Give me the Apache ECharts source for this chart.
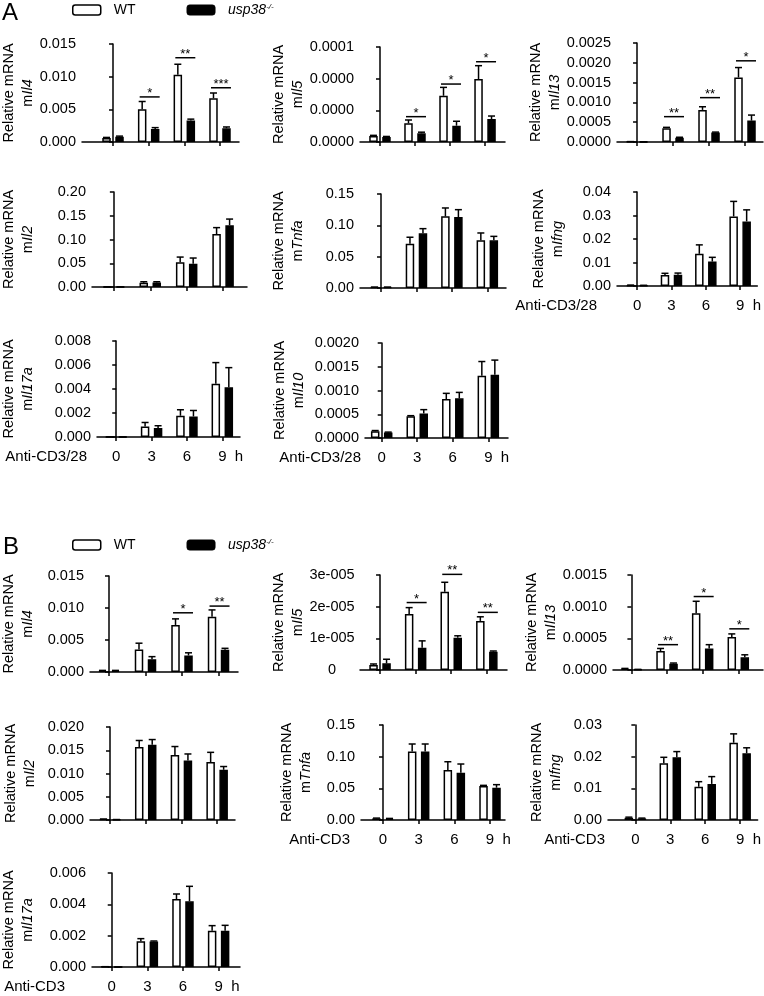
<!DOCTYPE html>
<html><head><meta charset="utf-8">
<script src="https://cdn.jsdelivr.net/npm/echarts@6/dist/echarts.min.js"></script>
<style>html,body{margin:0;padding:0;background:#fff}#c{width:764px;height:996px}</style>
</head><body><div id="c"></div>
<script>
const TIMES = [0, 3, 6, 9];

// ---------- Panel A (Anti-CD3/28) ----------
const A_IL4_WT = [0.0006, 0.0050, 0.0103, 0.0067];
const A_IL4_WT_SEM = [0.0001, 0.0012, 0.0016, 0.0008];
const A_IL4_KO = [0.0008, 0.0020, 0.0033, 0.0021];
const A_IL4_KO_SEM = [0.0001, 0.0002, 0.0002, 0.0002];
const A_IL4_SIG = [[3, 0.0069, '*'], [6, 0.0129, '**'], [9, 0.0083, '***']];

const A_IL5_WT = [0.0000038, 0.0000118, 0.0000292, 0.0000398];
const A_IL5_WT_SEM = [0.0000004, 0.0000021, 0.0000053, 0.0000084];
const A_IL5_KO = [0.0000032, 0.0000055, 0.0000103, 0.0000145];
const A_IL5_KO_SEM = [0.0000003, 0.0000007, 0.0000028, 0.0000019];
const A_IL5_SIG = [[3, 0.000016, '*'], [6, 0.0000366, '*'], [9, 0.0000507, '*']];

const A_IL13_WT = [0.00001, 0.00035, 0.00081, 0.00163];
const A_IL13_WT_SEM = [0, 0.00002, 0.00008, 0.00025];
const A_IL13_KO = [0.000005, 0.00011, 0.00024, 0.00054];
const A_IL13_KO_SEM = [0, 0.00001, 0.00001, 0.00014];
const A_IL13_SIG = [[3, 0.00064, '**'], [6, 0.00112, '**'], [9, 0.00205, '*']];

const A_IL2_WT = [0.0005, 0.009, 0.052, 0.1115];
const A_IL2_WT_SEM = [0, 0.002, 0.011, 0.0135];
const A_IL2_KO = [0.0005, 0.0095, 0.049, 0.13];
const A_IL2_KO_SEM = [0, 0.0015, 0.012, 0.013];

const A_TNFA_WT = [0.0012, 0.0707, 0.1143, 0.076];
const A_TNFA_WT_SEM = [0.0002, 0.0103, 0.0134, 0.0118];
const A_TNFA_KO = [0.0012, 0.0872, 0.1133, 0.076];
const A_TNFA_KO_SEM = [0.0002, 0.0075, 0.0117, 0.0064];

const A_IFNG_WT = [0.0003, 0.0047, 0.0137, 0.0296];
const A_IFNG_WT_SEM = [0.0001, 0.0007, 0.0038, 0.0064];
const A_IFNG_KO = [0.0002, 0.0048, 0.0104, 0.0275];
const A_IFNG_KO_SEM = [0.0001, 0.0007, 0.0018, 0.0049];

const A_IL17A_WT = [0.00002, 0.00088, 0.00177, 0.00443];
const A_IL17A_WT_SEM = [0, 0.00033, 0.0005, 0.00177];
const A_IL17A_KO = [0.00001, 0.00075, 0.00171, 0.00415];
const A_IL17A_KO_SEM = [0, 0.00019, 0.0005, 0.00163];

const A_IL10_WT = [0.000142, 0.00046, 0.00082, 0.00131];
const A_IL10_WT_SEM = [0.000015, 0.00001, 0.00012, 0.0003];
const A_IL10_KO = [0.000114, 0.000517, 0.000835, 0.00133];
const A_IL10_KO_SEM = [0.00001, 0.00008, 0.000125, 0.00031];

// ---------- Panel B (Anti-CD3) ----------
const B_IL4_WT = [0.0002, 0.0035, 0.00735, 0.00864];
const B_IL4_WT_SEM = [0.00005, 0.001, 0.00095, 0.00106];
const B_IL4_KO = [0.0002, 0.002, 0.00258, 0.00347];
const B_IL4_KO_SEM = [0.00005, 0.0004, 0.00042, 0.00023];
const B_IL4_SIG = [[6, 0.00925, '*'], [9, 0.0103, '**']];

const B_IL5_WT = [0.0000016, 0.0000177, 0.0000247, 0.0000155];
const B_IL5_WT_SEM = [0.0000003, 0.000002, 0.000003, 0.0000013];
const B_IL5_KO = [0.0000021, 0.00000705, 0.0000102, 0.0000058];
const B_IL5_KO_SEM = [0.0000013, 0.00000215, 0.0000006, 0.0000002];
const B_IL5_SIG = [[3, 0.0000213, '*'], [6, 0.0000302, '**'], [9, 0.0000182, '**']];

const B_IL13_WT = [0.00002, 0.0003, 0.000895, 0.00052];
const B_IL13_WT_SEM = [0.000005, 0.00004, 0.00019, 0.00005];
const B_IL13_KO = [0.00001, 0.0001, 0.00034, 0.0002];
const B_IL13_KO_SEM = [0, 0.00001, 0.00006, 0.00004];
const B_IL13_SIG = [[3, 0.0004, '**'], [6, 0.00116, '*'], [9, 0.00065, '*']];

const B_IL2_WT = [0.0002, 0.0157, 0.014, 0.01245];
const B_IL2_WT_SEM = [0, 0.0014, 0.0018, 0.0021];
const B_IL2_KO = [0.0001, 0.0162, 0.0128, 0.0108];
const B_IL2_KO_SEM = [0, 0.0011, 0.0014, 0.0007];

const B_TNFA_WT = [0.0025, 0.108, 0.079, 0.0537];
const B_TNFA_WT_SEM = [0.0005, 0.012, 0.013, 0.001];
const B_TNFA_KO = [0.002, 0.108, 0.0747, 0.051];
const B_TNFA_KO_SEM = [0.0005, 0.012, 0.0137, 0.0048];

const B_IFNG_WT = [0.0007, 0.0179, 0.0105, 0.0244];
const B_IFNG_WT_SEM = [0.0002, 0.0019, 0.0016, 0.0028];
const B_IFNG_KO = [0.0005, 0.0198, 0.0114, 0.0211];
const B_IFNG_KO_SEM = [0.0001, 0.0018, 0.0023, 0.0017];

const B_IL17A_WT = [0.00002, 0.00164, 0.00434, 0.00232];
const B_IL17A_WT_SEM = [0, 0.00017, 0.00032, 0.00032];
const B_IL17A_KO = [0, 0.00162, 0.00419, 0.00232];
const B_IL17A_KO_SEM = [0, 0.00004, 0.00096, 0.00034];

const FONT = '"Liberation Sans", Arial, Helvetica, sans-serif';
const fixed = d => v => v.toFixed(d);
const sciFmt = v => (v === 0 ? '0' : Math.round(v * 1e5) + 'e-005');

// layout per panel: box = [left, top, width, height], xr = x-range in hours
const PANELS = [
  {gene:'Il4',  wt:A_IL4_WT, ws:A_IL4_WT_SEM, ko:A_IL4_KO, ks:A_IL4_KO_SEM, sig:A_IL4_SIG, box:[82,44,157,98], xr:[-2.61,10.6], yMax:0.015, yStep:0.005, fmt:fixed(3), nameGap:43},
  {gene:'Il5',  wt:A_IL5_WT, ws:A_IL5_WT_SEM, ko:A_IL5_KO, ks:A_IL5_KO_SEM, sig:A_IL5_SIG, box:[360,47,145,95], xr:[-1.71,10.71], yMax:0.00006, yStep:0.00002, fmt:fixed(4), nameGap:48},
  {gene:'Il13', wt:A_IL13_WT, ws:A_IL13_WT_SEM, ko:A_IL13_KO, ks:A_IL13_KO_SEM, sig:A_IL13_SIG, box:[617,43,146,99], xr:[-1.67,10.5], yMax:0.0025, yStep:0.0005, fmt:fixed(4), nameGap:52},
  {gene:'Il2',  wt:A_IL2_WT, ws:A_IL2_WT_SEM, ko:A_IL2_KO, ks:A_IL2_KO_SEM, box:[91,192,156,95], xr:[-1.8,10.97], yMax:0.2, yStep:0.05, fmt:fixed(2), nameGap:55},
  {gene:'Tnfa', wt:A_TNFA_WT, ws:A_TNFA_WT_SEM, ko:A_TNFA_KO, ks:A_TNFA_KO_SEM, box:[360,194,146,94], xr:[-1.78,10.58], yMax:0.15, yStep:0.05, fmt:fixed(2), nameGap:53},
  {gene:'Ifng', wt:A_IFNG_WT, ws:A_IFNG_WT_SEM, ko:A_IFNG_KO, ks:A_IFNG_KO_SEM, box:[617,192,146,94], xr:[-1.76,10.5], yMax:0.04, yStep:0.01, fmt:fixed(2), nameGap:50, xName:'Anti-CD3/28', xNameGap:20},
  {gene:'Il17a', wt:A_IL17A_WT, ws:A_IL17A_WT_SEM, ko:A_IL17A_KO, ks:A_IL17A_KO_SEM, box:[95,341,145,96], xr:[-1.63,10.5], yMax:0.008, yStep:0.002, fmt:fixed(3), nameGap:60, xName:'Anti-CD3/28', xNameGap:10},
  {gene:'Il10', wt:A_IL10_WT, ws:A_IL10_WT_SEM, ko:A_IL10_KO, ks:A_IL10_KO_SEM, box:[365,343,143,95], xr:[-1.41,10.66], yMax:0.002, yStep:0.0005, fmt:fixed(4), nameGap:57, xName:'Anti-CD3/28', xNameGap:4},
  {gene:'Il4',  wt:B_IL4_WT, ws:B_IL4_WT_SEM, ko:B_IL4_KO, ks:B_IL4_KO_SEM, sig:B_IL4_SIG, box:[89,576,149,96], xr:[-1.56,10.6], yMax:0.015, yStep:0.005, fmt:fixed(3), nameGap:53},
  {gene:'Il5',  wt:B_IL5_WT, ws:B_IL5_WT_SEM, ko:B_IL5_KO, ks:B_IL5_KO_SEM, sig:B_IL5_SIG, box:[360,575,147,95], xr:[-1.69,10.7], yMax:0.00003, yStep:0.00001, fmt:sciFmt, nameGap:53, centerLabels:true},
  {gene:'Il13', wt:B_IL13_WT, ws:B_IL13_WT_SEM, ko:B_IL13_KO, ks:B_IL13_KO_SEM, sig:B_IL13_SIG, box:[613,575,150,95], xr:[-1.55,11.08], yMax:0.0015, yStep:0.0005, fmt:fixed(4), nameGap:53},
  {gene:'Il2',  wt:B_IL2_WT, ws:B_IL2_WT_SEM, ko:B_IL2_KO, ks:B_IL2_KO_SEM, box:[90,727,145,93], xr:[-1.68,10.5], yMax:0.02, yStep:0.005, fmt:fixed(3), nameGap:51},
  {gene:'Tnfa', wt:B_TNFA_WT, ws:B_TNFA_WT_SEM, ko:B_TNFA_KO, ks:B_TNFA_KO_SEM, box:[361,725,144,95], xr:[-1.85,10.26], yMax:0.15, yStep:0.05, fmt:fixed(2), nameGap:46, xName:'Anti-CD3', xNameGap:11},
  {gene:'Ifng', wt:B_IFNG_WT, ws:B_IFNG_WT_SEM, ko:B_IFNG_KO, ks:B_IFNG_KO_SEM, box:[608,725,155,95], xr:[-2.35,10.5], yMax:0.03, yStep:0.01, fmt:fixed(2), nameGap:43, xName:'Anti-CD3', xNameGap:3},
  {gene:'Il17a', wt:B_IL17A_WT, ws:B_IL17A_WT_SEM, ko:B_IL17A_KO, ks:B_IL17A_KO_SEM, box:[90,873,150,94], xr:[-1.66,10.8], yMax:0.006, yStep:0.002, fmt:fixed(3), nameGap:55, xName:'Anti-CD3', xNameGap:27}
];

const AXLINE = {color:'#000', width:1.5};
const BAR_W = 8.5, HALF = 6.5;

function errRender(off) {
  return function (params, api) {
    const a = api.coord([api.value(0), api.value(1)]);
    const b = api.coord([api.value(0), api.value(2)]);
    const x = a[0] + off;
    return {type:'group', children:[
      {type:'line', shape:{x1:x, y1:a[1], x2:x, y2:b[1]}, style:{stroke:'#000', lineWidth:1.5}},
      {type:'line', shape:{x1:x-3.5, y1:b[1], x2:x+3.5, y2:b[1]}, style:{stroke:'#000', lineWidth:1.5}}
    ]};
  };
}
function sigRender(labels) {
  return function (params, api) {
    const p = api.coord([api.value(0), api.value(1)]);
    return {type:'group', children:[
      {type:'line', shape:{x1:p[0]-9, y1:p[1], x2:p[0]+11, y2:p[1]}, style:{stroke:'#000', lineWidth:1.5}},
      {type:'text', x:p[0]+1, y:p[1]+3, style:{text:labels[params.dataIndex], fontSize:13, fontFamily:FONT, fill:'#000', align:'center', verticalAlign:'bottom'}}
    ]};
  };
}

const grid = [], xAxis = [], yAxis = [], series = [];
PANELS.forEach((p, i) => {
  grid.push({left:p.box[0], top:p.box[1], width:p.box[2], height:p.box[3]});
  xAxis.push({
    type:'value', gridIndex:i, min:p.xr[0], max:p.xr[1],
    axisLine:{show:true, onZero:false, lineStyle:AXLINE},
    axisTick:{show:true, customValues:TIMES, length:4, lineStyle:AXLINE},
    axisLabel:{show:!!p.xName, customValues:TIMES, margin:12, fontSize:15, color:'#000', fontFamily:FONT,
      formatter: v => (v === 9 ? '{g|h  }9  h' : String(v)),
      rich:{g:{color:'rgba(0,0,0,0)', fontSize:15, fontFamily:FONT}}},
    splitLine:{show:false},
    name:p.xName || '', nameLocation:'start', nameGap:p.xNameGap || 0,
    nameTextStyle:{fontSize:15, color:'#000', fontFamily:FONT, verticalAlign:'top', padding:[12,0,0,0]}
  });
  yAxis.push({
    type:'value', gridIndex:i, min:0, max:p.yMax, interval:p.yStep,
    axisLine:{show:true, lineStyle:AXLINE},
    axisTick:{show:true, length:4, lineStyle:AXLINE},
    axisLabel:{fontSize:14.5, color:'#000', fontFamily:FONT, formatter:p.fmt,
      margin: p.centerLabels ? 28 : 6, align: p.centerLabels ? 'center' : 'right'},
    splitLine:{show:false},
    name:'{r|Relative mRNA}\n{r|m}{i|' + p.gene + '}', nameLocation:'middle', nameRotate:90, nameGap:p.nameGap,
    nameTextStyle:{rich:{
      r:{fontSize:14.5, fontFamily:FONT, color:'#000', lineHeight:19},
      i:{fontSize:14.5, fontFamily:FONT, color:'#000', fontStyle:'italic', lineHeight:19}}}
  });
  series.push({type:'bar', name:'WT', xAxisIndex:i, yAxisIndex:i, barWidth:BAR_W, barGap:'53%',
    data:TIMES.map((t, k) => [t, p.wt[k]]),
    itemStyle:{color:'#fff', borderColor:'#000', borderWidth:1.5}, animation:false});
  series.push({type:'bar', name:'usp38', xAxisIndex:i, yAxisIndex:i, barWidth:BAR_W, barGap:'53%',
    data:TIMES.map((t, k) => [t, p.ko[k]]),
    itemStyle:{color:'#000', borderColor:'#000', borderWidth:1.5}, animation:false});
  series.push({type:'custom', xAxisIndex:i, yAxisIndex:i, z:3, animation:false,
    renderItem:errRender(-HALF), encode:{x:0, y:[1,2]},
    data:TIMES.map((t, k) => [t, p.wt[k], p.wt[k] + p.ws[k]])});
  series.push({type:'custom', xAxisIndex:i, yAxisIndex:i, z:3, animation:false,
    renderItem:errRender(HALF), encode:{x:0, y:[1,2]},
    data:TIMES.map((t, k) => [t, p.ko[k], p.ko[k] + p.ks[k]])});
  if (p.sig) {
    const labels = p.sig.map(s => s[2]);
    series.push({type:'custom', xAxisIndex:i, yAxisIndex:i, z:3, animation:false,
      renderItem:sigRender(labels), encode:{x:0, y:1},
      data:p.sig.map(s => [s[0], s[1]])});
  }
});

const legendCfg = top => ({
  left:72, top:top, padding:0, itemWidth:28, itemHeight:10, itemGap:51, selectedMode:false,
  data:[{name:'WT', itemStyle:{color:'#fff', borderColor:'#000', borderWidth:1.5}},
        {name:'usp38', itemStyle:{color:'#000', borderColor:'#000', borderWidth:1}}],
  formatter: n => (n === 'WT' ? 'WT' : '{i|usp38}{s|-/-}'),
  textStyle:{fontSize:14, color:'#000', fontFamily:FONT, padding:[0,0,0,8],
    rich:{i:{fontSize:14, fontStyle:'italic', fontFamily:FONT, color:'#000'},
          s:{fontSize:8, fontStyle:'italic', fontFamily:FONT, color:'#000', verticalAlign:'top', padding:[0,0,6,0]}}}
});

const chart = echarts.init(document.getElementById('c'), null, {renderer:'canvas'});
chart.setOption({
  backgroundColor:'#fff',
  animation:false,
  textStyle:{fontFamily:FONT, color:'#000'},
  legend:[legendCfg(3), legendCfg(538)],
  grid, xAxis, yAxis, series,
  graphic:[
    {type:'text', left:2, top:1, style:{text:'A', fontSize:24, fontFamily:FONT, fill:'#000'}},
    {type:'text', left:3, top:535, style:{text:'B', fontSize:24, fontFamily:FONT, fill:'#000'}}
  ]
});
</script></body></html>
